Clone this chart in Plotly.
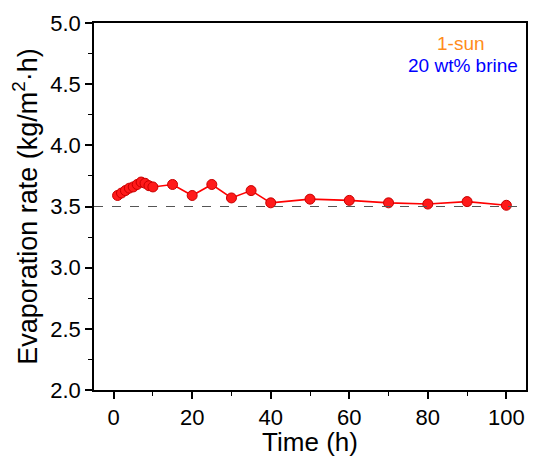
import plotly.graph_objects as go

time_h = [1, 2, 3, 4, 5, 6, 7, 8, 9, 10, 15, 20, 25, 30, 35, 40, 50, 60, 70, 80, 90, 100]
evap_rate = [3.59, 3.61, 3.63, 3.65, 3.66, 3.68, 3.70, 3.69, 3.67, 3.66,
             3.68, 3.59, 3.68, 3.57, 3.63, 3.53, 3.56, 3.55, 3.53, 3.52, 3.54, 3.51]
ref_rate = 3.5
x_ticks = [0, 20, 40, 60, 80, 100]
y_ticks = [2.0, 2.5, 3.0, 3.5, 4.0, 4.5, 5.0]
label_sun = "1-sun"
label_brine = "20 wt% brine"

FONT = "Liberation Sans, Arial, sans-serif"

fig = go.Figure()
fig.add_hline(y=ref_rate, line=dict(color="#555555", width=1.2, dash="dash"))
fig.add_trace(go.Scatter(
    x=time_h, y=evap_rate, mode="lines+markers",
    line=dict(color="#ff0000", width=1.6),
    marker=dict(size=10, color="#ff1a1a",
                line=dict(color="#c80000", width=1)),
    showlegend=False,
))

fig.add_annotation(x=0.85, y=0.945, xref="paper", yref="paper", text=label_sun,
                   showarrow=False, font=dict(family=FONT, size=19, color="#ff8c1a"),
                   xanchor="center", yanchor="middle")
fig.add_annotation(x=0.855, y=0.885, xref="paper", yref="paper", text=label_brine,
                   showarrow=False, font=dict(family=FONT, size=19, color="#0000ff"),
                   xanchor="center", yanchor="middle")

axis_common = dict(
    showline=True, linecolor="black", linewidth=1.5, mirror=True,
    showgrid=False, zeroline=False, ticks="outside", ticklen=7, tickwidth=1.5,
    tickcolor="black", tickfont=dict(family=FONT, size=22, color="black"),
)
fig.update_xaxes(**axis_common, range=[-5, 105], tickvals=x_ticks,
                 minor=dict(dtick=10, ticks="outside", ticklen=4, tickwidth=1.2, tickcolor="black", tick0=0),
                 title=dict(text="Time (h)", font=dict(family=FONT, size=26, color="black"), standoff=0))
fig.update_yaxes(**axis_common, range=[2.0, 5.0], tickvals=y_ticks, tickformat=".1f",
                 minor=dict(dtick=0.25, ticks="outside", ticklen=4, tickwidth=1.2, tickcolor="black", tick0=2.0),
                 title=dict(text="Evaporation rate (kg/m<sup>2</sup>·h)",
                            font=dict(family=FONT, size=27, color="black"), standoff=5))

fig.update_layout(
    width=533, height=457,
    margin=dict(l=94, r=5, t=23, b=67),
    paper_bgcolor="white", plot_bgcolor="white",
)
fig.write_html("out.html", config={"displayModeBar": False},
               post_script="document.body.style.margin='0';document.body.style.overflow='hidden';")
